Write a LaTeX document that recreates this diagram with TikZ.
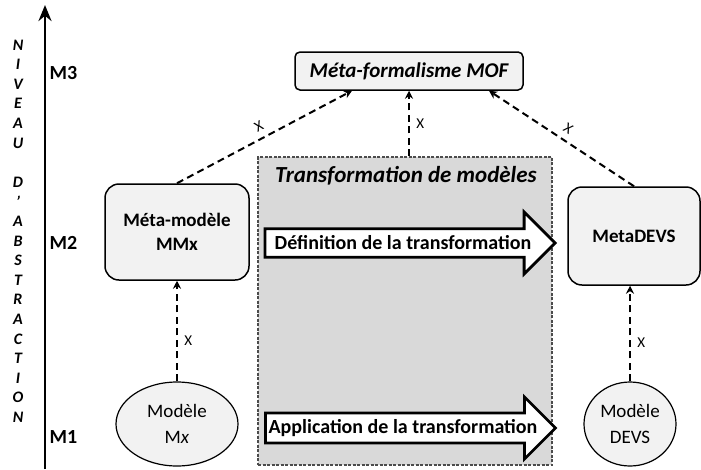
\documentclass[tikz,border=0pt]{standalone}
\usepackage{fontspec}
\setmainfont{Carlito}
\usetikzlibrary{arrows.meta, positioning, shapes.geometric, shapes.arrows, calc}

\begin{document}
\begin{tikzpicture}[
    x=1pt, y=-1pt,
    >=Stealth,
    metabox/.style={draw, line width=1.5pt, rounded corners=14pt, fill=gray!10,
                    align=center, font=\fontsize{19}{24}\selectfont\bfseries},
    modelnode/.style={ellipse, draw, line width=1.2pt, fill=gray!10, align=center,
                      inner sep=0pt, font=\fontsize{19}{26}\selectfont},
    conform/.style={-{Stealth[length=8pt, width=8pt]}, dashed, line width=2pt,
                    dash pattern=on 7pt off 4.5pt},
    xlab/.style={font=\fontsize{15}{15}\selectfont},
    bigarrow/.style={single arrow, draw, fill=white, line width=2.8pt,
                     minimum height=290pt, minimum width=62pt,
                     single arrow head extend=16pt, inner xsep=0pt, inner ysep=5pt,
                     font=\fontsize{20}{20}\selectfont\bfseries},
    lvl/.style={font=\fontsize{16}{16}\selectfont\bfseries\itshape},
    mlab/.style={font=\fontsize{20}{20}\selectfont\bfseries, anchor=west}
  ]
  \useasboundingbox (0,0) rectangle (701,469);

  % Abstraction axis
  \coordinate (axbot) at (45,469);
  \coordinate (axtop) at (45,5);
  \draw[-{Stealth[length=16pt, width=13pt]}, line width=2.8pt] (axbot) -- (axtop);
  \foreach \l [count=\k from 0] in {N,I,V,E,A,U} {
    \node[lvl] (lvl\k) at (18, 45+\k*19.6) {\l};
  }
  \foreach \l [count=\k from 7] in {D,',A,B,S,T,R,A,C,T,I,O,N} {
    \node[lvl] (lvl\k) at (18, 45+\k*19.6) {\l};
  }
  \node[mlab] (m3) at (46,73) {M3};
  \node[mlab] (m2) at (46,243) {M2};
  \node[mlab] (m1) at (46,437) {M1};

  % Transformation area
  \node[draw=gray!60!black, dashed, dash pattern=on 3pt off 1.5pt, line width=1.1pt,
        fill=gray!30, minimum width=294pt, minimum height=308pt] (trbox) at (405,311) {};
  \node[font=\fontsize{23}{23}\selectfont\bfseries\itshape] (trtitle) at (406,176)
    {Transformation de modèles};
  \node[bigarrow] (defarrow) at (403,243) {Définition de la transformation};
  \node[bigarrow] (apparrow) at (403,428) {Application de la transformation};

  % Meta-levels
  \node[metabox, rounded corners=5pt, minimum width=228pt, minimum height=38pt,
        font=\fontsize{21}{21}\selectfont\bfseries\itshape] (mof) at (409,71)
    {Méta-formalisme MOF};
  \node[metabox, minimum width=144pt, minimum height=96pt] (mmx) at (177,232)
    {Méta-modèle\\MMx};
  \node[metabox, minimum width=132pt, minimum height=98pt] (metadevs) at (634,236)
    {MetaDEVS};

  % Models
  \node[modelnode, minimum width=122pt, minimum height=84pt] (mx) at (177,424)
    {Modèle\\M\textit{x}};
  \node[modelnode, minimum width=92pt, minimum height=84pt] (devs) at (630,424)
    {Modèle\\DEVS};

  % Conformity links
  \draw[conform] (mmx.north) -- ([xshift=-57pt]mof.south)
    node[xlab, midway, above=3pt, sloped] {X};
  \draw[conform] (mof.south |- trbox.north) -- (mof.south)
    node[xlab, midway, right=3pt] {X};
  \draw[conform] (metadevs.north) -- ([xshift=80pt]mof.south)
    node[xlab, midway, above=3pt, sloped] {X};
  \draw[conform] (mx.north) -- (mmx.south)
    node[xlab, pos=0.4, right=3pt] {X};
  \draw[conform] (devs.north) -- (devs.north |- metadevs.south)
    node[xlab, pos=0.4, right=3pt] {X};
\end{tikzpicture}
\end{document}
